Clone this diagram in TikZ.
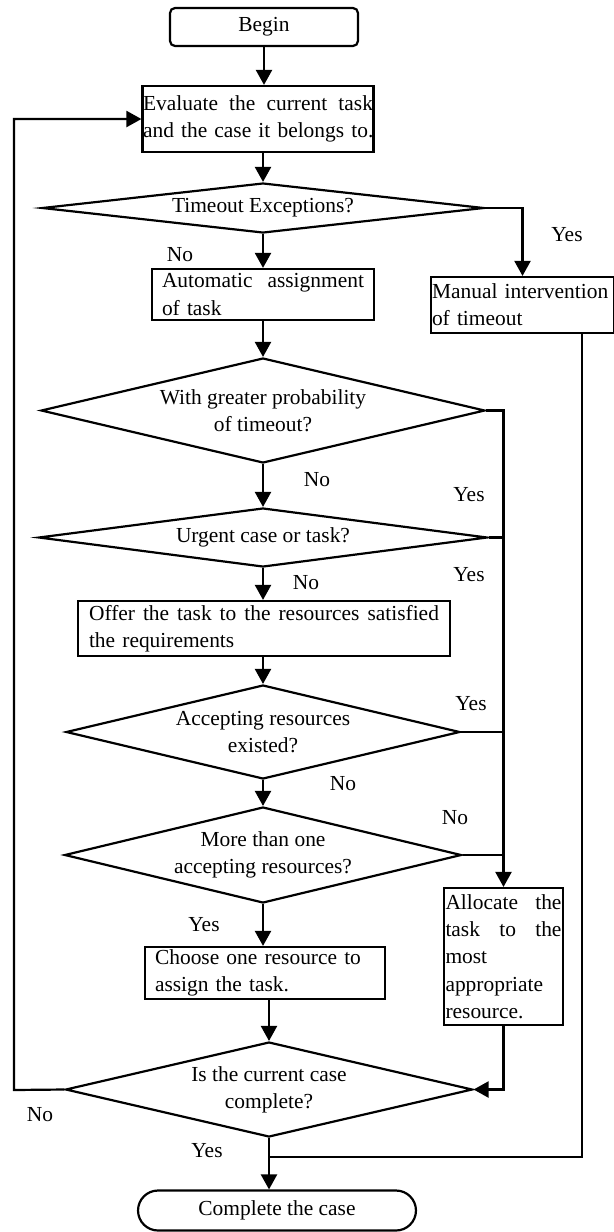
\documentclass[tikz,border=0pt]{standalone}
\usepackage{fontspec}
\setmainfont{Liberation Serif}
\usetikzlibrary{shapes.geometric,arrows.meta}
\tikzset{
  base/.style={draw, line width=1.25pt, font=\fontsize{12.2pt}{15.5pt}\selectfont, inner ysep=0pt},
  proc/.style={base, rectangle, align=left},
  test/.style={base, diamond, inner sep=0pt, align=center},
  lbl/.style={font=\fontsize{12.2pt}{15.5pt}\selectfont, inner sep=0pt},
  arr/.style={line width=1.25pt, -{Triangle[length=0.3cm,width=0.32cm]}},
  wire/.style={line width=1.25pt},
  thinwire/.style={line width=0.6pt}
}
\begin{document}
\begin{tikzpicture}[x=0.02cm, y=-0.02cm]
\useasboundingbox (0,0) rectangle (614,1232);
\node[proc, rounded corners=0.1cm, minimum width=3.76cm, minimum height=0.76cm, align=center] (start) at (264,27) {Begin};
\node[proc, text width=4.6cm, inner xsep=0.01cm, minimum height=1.32cm] (eval) at (258,119) {Evaluate\hfill the\hfill current\hfill task\\\mbox{and the case it belongs to.}};
\node[test, minimum width=8.84cm, minimum height=1cm, shape aspect=8.8] (d1) at (263,208) {Timeout Exceptions?};
\node[proc, text width=4.04cm, inner xsep=0.2cm, minimum height=1.02cm] (assign) at (263,294.5) {Automatic\hfill assignment\\of task};
\node[proc, text width=3.62cm, inner xsep=0.02cm, minimum height=1.12cm] (manual) at (522.5,305) {\mbox{Manual intervention}\\of timeout};
\node[test, minimum width=8.88cm, minimum height=2.1cm, shape aspect=4.2] (d2) at (263,410.5) {With greater probability\\of timeout?};
\node[test, minimum width=8.98cm, minimum height=1.18cm, shape aspect=7.6] (d3) at (263,537.5) {Urgent case or task?};
\node[proc, text width=7cm, inner xsep=0.22cm, minimum height=1.1cm] (offer) at (264,628.5) {Offer\hfill the\hfill task\hfill to\hfill the\hfill resources\hfill satisfied\\the requirements};
\node[test, minimum width=7.88cm, minimum height=1.88cm, shape aspect=4.2] (d4) at (263,732) {Accepting resources\\existed?};
\node[test, minimum width=7.94cm, minimum height=1.92cm, shape aspect=4.1] (d5) at (263,855) {More than one\\accepting resources?};
\node[proc, text width=2.32cm, inner xsep=0.03cm, minimum height=2.74cm] (alloc) at (503.5,956.5) {Allocate\hfill the\\task\hfill to\hfill the\\most\\appropriate\\resource.};
\node[proc, text width=4.4cm, inner xsep=0.2cm, minimum height=1.04cm] (choose) at (265,973) {\mbox{Choose one resource to}\\assign the task.};
\node[test, minimum width=8.14cm, minimum height=1.9cm, shape aspect=4.3] (chk) at (269,1089.5) {Is the current case\\complete?};
\node[proc, rounded corners=0.4cm, minimum width=5.56cm, minimum height=0.8cm, align=center] (done) at (277,1210.5) {Complete the case};
\foreach \txt/\x/\y/\n in {Yes/567/235/yA, No/180/255/nA, No/317/480/nB, Yes/469/495/yB, No/306/583/nC, Yes/469/575/yC, Yes/471/704/yD, No/343/784/nD, No/455/818/nE, Yes/204/925/yE, No/40/1115/nF, Yes/207/1151/yF}
  \node[lbl] (\n) at (\x,\y) {\txt};
\draw[arr] (start.south) -- (start.south |- eval.north);
\draw[arr] (eval.south -| d1) -- (d1);
\draw[arr] (d1) -- (assign);
\draw[arr] (assign) -- (d2);
\draw[arr] (d2) -- (d3);
\draw[arr] (d3.south) -- (d3.south |- offer.north);
\draw[arr] (offer.south -| d4) -- (d4);
\draw[arr] (d4) -- (d5);
\draw[arr] (d5.south) -- (d5.south |- choose.north);
\draw[arr] (choose.south -| chk) -- (chk);
\draw[arr] (chk.south) -- (chk.south |- done.north);
\draw[arr] (d1.east) -| (manual.north);
\coordinate (mbend) at (582,1157);
\draw[wire] (manual.south -| mbend) -- (mbend) -- (mbend -| chk.south);
\draw[arr] (d2.east) -- (d2.east -| alloc.north) -- (alloc.north);
\draw[wire] (d3.east) -- (d3.east -| alloc.north);
\draw[thinwire] (d4.east) -- (d4.east -| alloc.north);
\draw[thinwire] (d5.east) -- (d5.east -| alloc.north);
\draw[arr] (alloc.south) |- (chk.east);
\coordinate (back) at (14,1090);
\draw[arr] (chk.west) -- (back) |- (eval.west);
\end{tikzpicture}
\end{document}
